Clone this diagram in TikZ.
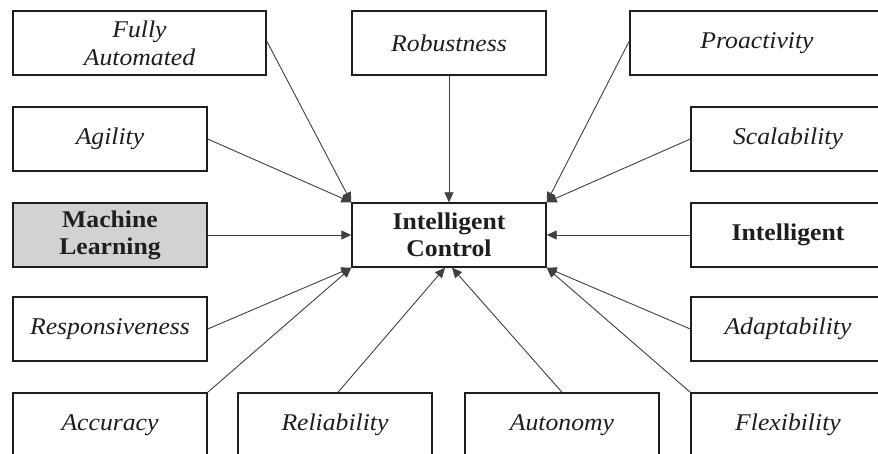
\documentclass[tikz,border=0pt]{standalone}
\usepackage{fontspec}
\setmainfont{Liberation Serif}[FakeStretch=1.07]
\usetikzlibrary{arrows.meta}
\definecolor{ink}{HTML}{1E1E1E}
\definecolor{mlgray}{HTML}{D2D2D2}
\tikzset{
  box/.style={draw=ink, line width=1.4pt, fill=white, minimum width=194pt, minimum height=64pt,
    inner sep=0pt, align=center, text=ink, font=\fontsize{24}{28}\selectfont\itshape},
  boldbox/.style={box, font=\fontsize{24}{27}\selectfont\bfseries},
  conn/.style={draw=ink!85, line width=0.9pt, -{Triangle[length=10pt,width=9pt]}}
}
\begin{document}
\begin{tikzpicture}[x=1pt,y=-1pt]
\useasboundingbox (0,0) rectangle (878,454);
\clip (0,0) rectangle (878,454);
\fill[white] (0,0) rectangle (878,454);
% nodes
\node[box, minimum width=253pt] (fa) at (139.5,43) {Fully\\Automated};
\node[box] (rob) at (449,43) {Robustness};
\node[box, minimum width=254pt] (pro) at (757,43) {Proactivity};
\node[box] (agi) at (110,139) {Agility};
\node[box] (sca) at (788,139) {Scalability};
\node[boldbox, fill=mlgray] (ml) at (110,235) {Machine\\Learning};
\node[boldbox] (ic) at (449,235) {Intelligent\\Control};
\node[boldbox] (int) at (788,235) {Intelligent};
\node[box] (res) at (110,329) {Responsiveness};
\node[box] (ada) at (788,329) {Adaptability};
\node[box] (acc) at (110,425) {Accuracy};
\node[box] (rel) at (335,425) {Reliability};
\node[box] (aut) at (562,425) {Autonomy};
\node[box] (fle) at (788,425) {Flexibility};
% target points
\coordinate (icsl) at ([xshift=-4pt]ic.south);
\coordinate (icsr) at ([xshift=3pt]ic.south);
\coordinate (faend) at ([yshift=2pt]fa.east);
\coordinate (proend) at ([yshift=2pt]pro.west);
% connectors
\draw[conn] (faend) -- (ic.north west);
\draw[conn] (agi.east) -- (ic.north west);
\draw[conn] (ml.east) -- (ic.west);
\draw[conn] (res.east) -- (ic.south west);
\draw[conn] (acc.north east) -- (ic.south west);
\draw[conn] ([xshift=3pt]rel.north) -- (icsl);
\draw[conn] (aut.north) -- (icsr);
\draw[conn] (rob.south) -- (ic.north);
\draw[conn] (proend) -- (ic.north east);
\draw[conn] (sca.west) -- (ic.north east);
\draw[conn] (int.west) -- (ic.east);
\draw[conn] (ada.west) -- (ic.south east);
\draw[conn] (fle.north west) -- (ic.south east);
\end{tikzpicture}
\end{document}
